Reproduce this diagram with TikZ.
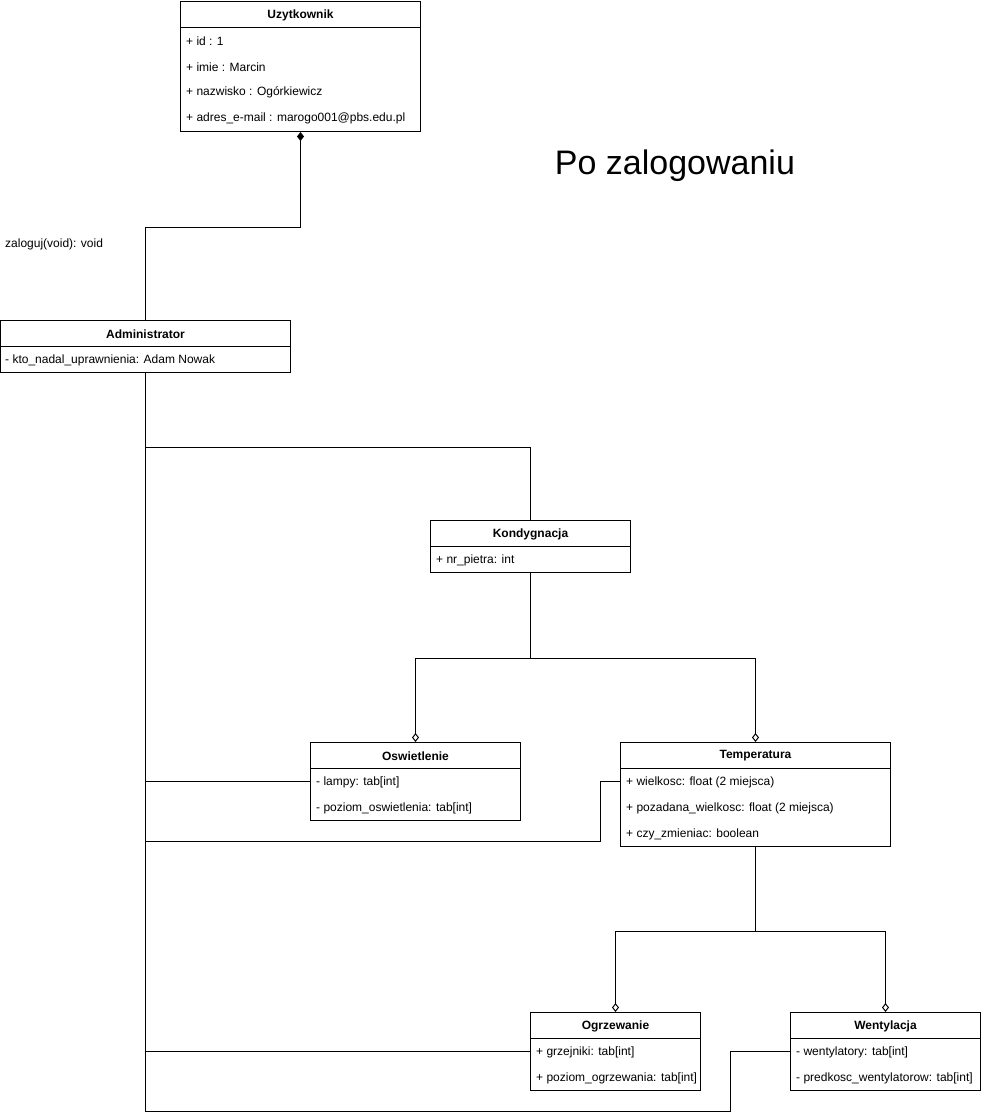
\documentclass[tikz,border=0pt]{standalone}
\usepackage{fontspec}
\setmainfont{Liberation Sans}
\usetikzlibrary{arrows.meta,calc}
\tikzset{
  cls/.style   = {rectangle, draw, line width=1pt, anchor=north west, inner sep=0pt},
  title/.style = {font=\fontsize{12}{14}\selectfont\bfseries, inner sep=0pt},
  attr/.style  = {font=\fontsize{12}{14}\selectfont, anchor=west, inner sep=0pt, inner xsep=6pt, yshift=-1pt},
  sep/.style   = {line width=1pt},
  link/.style  = {line width=1pt},
  comp/.style  = {link, -{Diamond[length=9pt,width=7pt]}},
  aggr/.style  = {link, -{Diamond[open,length=9pt,width=7pt]}},
  bigtxt/.style = {font=\fontsize{34}{40}\selectfont, inner sep=0pt},
}

\begin{document}
\begin{tikzpicture}[x=1pt,y=-1pt]
\useasboundingbox (0,0) rectangle (982,1114);

% Uzytkownik
\node[cls, minimum width=240, minimum height=130] (uzy) at (180,1) {};
\node[title] (uzyT) at ($(uzy.north)+(0,14)$) {Uzytkownik};
\draw[sep] ($(uzy.north west)+(0,26)$) -- ($(uzy.north east)+(0,26)$);
\node[attr] (uzy1) at (180,40) {+ id : 1};
\node[attr] (uzy2) at (180,66) {+ imie : Marcin};
\node[attr] (uzy3) at (180,91) {+ nazwisko : Ogórkiewicz};
\node[attr] (uzy4) at (180,117) {+ adres\_e-mail : marogo001@pbs.edu.pl};

\node[bigtxt] (head) at (675,166) {Po zalogowaniu};
\node[attr, inner xsep=5pt] (login) at (0,243) {zaloguj(void): void};

% Administrator
\node[cls, minimum width=290, minimum height=52] (adm) at (0,320) {};
\node[title] (admT) at ($(adm.north)+(0,14)$) {Administrator};
\draw[sep] ($(adm.north west)+(0,26)$) -- ($(adm.north east)+(0,26)$);
\node[attr, inner xsep=5pt] (adm1) at (0,359) {- kto\_nadal\_uprawnienia: Adam Nowak};

% Kondygnacja
\node[cls, minimum width=200, minimum height=52] (kond) at (430,520) {};
\node[title] (kondT) at ($(kond.north)+(0,14)$) {Kondygnacja};
\draw[sep] ($(kond.north west)+(0,26)$) -- ($(kond.north east)+(0,26)$);
\node[attr] (kond1) at (430,559) {+ nr\_pietra: int};

% Oswietlenie
\node[cls, minimum width=210, minimum height=78] (osw) at (310,742) {};
\node[title] (oswT) at ($(osw.north)+(0,14)$) {Oswietlenie};
\draw[sep] ($(osw.north west)+(0,26)$) -- ($(osw.north east)+(0,26)$);
\node[attr] (osw1) at (310,781) {- lampy: tab[int]};
\node[attr] (osw2) at (310,807) {- poziom\_oswietlenia: tab[int]};

% Temperatura
\node[cls, minimum width=270, minimum height=104] (tem) at (620,742) {};
\node[title] (temT) at ($(tem.north)+(0,14)$) {Temperatura};
\draw[sep] ($(tem.north west)+(0,26)$) -- ($(tem.north east)+(0,26)$);
\node[attr] (tem1) at (620,781) {+ wielkosc: float (2 miejsca)};
\node[attr] (tem2) at (620,807) {+ pozadana\_wielkosc: float (2 miejsca)};
\node[attr] (tem3) at (620,833) {+ czy\_zmieniac: boolean};

% Ogrzewanie
\node[cls, minimum width=170, minimum height=78] (ogr) at (530,1012) {};
\node[title] (ogrT) at ($(ogr.north)+(0,14)$) {Ogrzewanie};
\draw[sep] ($(ogr.north west)+(0,26)$) -- ($(ogr.north east)+(0,26)$);
\node[attr] (ogr1) at (530,1051) {+ grzejniki: tab[int]};
\node[attr] (ogr2) at (530,1077) {+ poziom\_ogrzewania: tab[int]};

% Wentylacja
\node[cls, minimum width=190, minimum height=78] (wen) at (790,1012) {};
\node[title] (wenT) at ($(wen.north)+(0,14)$) {Wentylacja};
\draw[sep] ($(wen.north west)+(0,26)$) -- ($(wen.north east)+(0,26)$);
\node[attr] (wen1) at (790,1051) {- wentylatory: tab[int]};
\node[attr] (wen2) at (790,1077) {- predkosc\_wentylatorow: tab[int]};

% connectors
\draw[comp] (adm.north) |- ($(uzy.south)+(0,95)$) -- (uzy.south);
\draw[link] (adm.south) |- ($(kond.north)+(0,-73)$) -- (kond.north);
\draw[link] (adm.south) |- ($(osw1.west)+(0,-1)$);
\draw[link] (adm.south) |- ($(tem1.west)+(-20,59)$) |- ($(tem1.west)+(0,-1)$);
\draw[link] (adm.south) |- ($(ogr1.west)+(0,-1)$);
\draw[link] (adm.south) |- ($(wen1.west)+(-60,59)$) |- ($(wen1.west)+(0,-1)$);
\draw[aggr] (kond.south) -- ++(0,85) -| (osw.north);
\draw[aggr] (kond.south) -- ++(0,85) -| (tem.north);
\draw[aggr] (tem.south) -- ++(0,84) -| (ogr.north);
\draw[aggr] (tem.south) -- ++(0,84) -| (wen.north);

\end{tikzpicture}
\end{document}
